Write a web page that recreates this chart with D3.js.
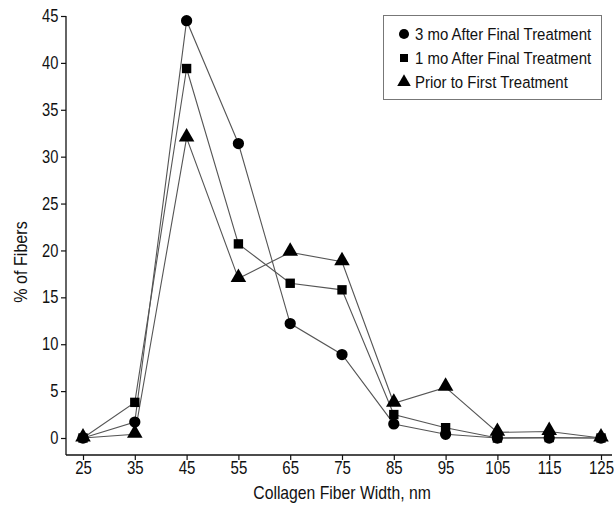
<!DOCTYPE html>
<html><head><meta charset="utf-8">
<script src="https://cdn.jsdelivr.net/npm/d3@7"></script>
<style>
body{margin:0;background:#fff;}
svg text{font-family:"Liberation Sans",Arial,sans-serif;fill:#111;}
</style></head>
<body><svg id="c" width="614" height="508"></svg>
<script>
const widths = [25,35,45,55,65,75,85,95,105,115,125];
const xTicks = [25,35,45,55,65,75,85,95,105,115,125];
const yTicks = [0,5,10,15,20,25,30,35,40,45];
const seriesNames = ["3 mo After Final Treatment","1 mo After Final Treatment","Prior to First Treatment"];
const threeMo = [0,1.7,44.5,31.4,12.2,8.9,1.5,0.4,0,0,0];
const oneMo   = [0,3.8,39.4,20.7,16.5,15.8,2.5,1.1,0,0.05,0];
const prior   = [0,0.4,32.0,17.0,19.8,18.8,3.7,5.4,0.6,0.7,0];
const symbols = [d3.symbolCircle, d3.symbolSquare, d3.symbolTriangle];
const symSizes = [100, 88, 105];

const svg = d3.select("#c");
const x = d3.scaleLinear().domain([25,125]).range([83,601]);
const y = d3.scaleLinear().domain([0,45]).range([438,16]);
const axX = 66, axY = 455;

svg.append("line").attr("x1",axX).attr("x2",axX).attr("y1",y(45)).attr("y2",axY).attr("stroke","#111").attr("stroke-width",1.3);
svg.append("line").attr("x1",axX).attr("x2",612).attr("y1",axY).attr("y2",axY).attr("stroke","#111").attr("stroke-width",1.3);

const ya = svg.append("g").attr("transform",`translate(${axX},0)`)
  .call(d3.axisLeft(y).tickValues(yTicks).tickSize(5).tickSizeOuter(0).tickPadding(3));
ya.select(".domain").remove();
const xa = svg.append("g").attr("transform",`translate(0,${axY})`)
  .call(d3.axisBottom(x).tickValues(xTicks).tickSize(5).tickSizeOuter(0).tickPadding(5));
xa.select(".domain").remove();
svg.selectAll(".tick line").attr("stroke","#111").attr("stroke-width",1.2);
svg.selectAll(".tick text").attr("font-size",17.5).attr("font-family",null);
ya.selectAll(".tick text").attr("x",-9).attr("transform","scale(0.84,1)");
xa.selectAll(".tick text").attr("y",7).attr("transform","scale(0.86,1)");

svg.append("g").attr("transform","translate(342,499) scale(0.9,1)")
  .append("text").attr("text-anchor","middle").attr("font-size",17.5).text("Collagen Fiber Width, nm");
svg.append("g").attr("transform","translate(27,262) rotate(-90) scale(0.92,1)")
  .append("text").attr("text-anchor","middle").attr("font-size",17.5).text("% of Fibers");

const all = [threeMo, oneMo, prior];
const line = d3.line().x((d,i)=>x(widths[i])).y(d=>y(d));
all.forEach((s,k)=>{
  svg.append("path").attr("d",line(s)).attr("fill","none").attr("stroke","#555").attr("stroke-width",1.1);
});
[2,1,0].forEach(k=>{
  svg.append("g").selectAll("path").data(all[k]).enter().append("path")
    .attr("d",d3.symbol().type(symbols[k]).size(symSizes[k]))
    .attr("transform",(d,i)=>`translate(${x(widths[i])},${y(d) - (k===2?1:0)})`)
    .attr("fill","#000");
});

const lg = svg.append("g");
lg.append("rect").attr("x",383.5).attr("y",15.5).attr("width",218).attr("height",84).attr("fill","#fff").attr("stroke","#777").attr("stroke-width",1);
seriesNames.forEach((n,k)=>{
  const yy = 34 + k*24;
  lg.append("path").attr("d",d3.symbol().type(symbols[k]).size(k===1?65:80)).attr("transform",`translate(404,${yy})`).attr("fill","#000");
  lg.append("g").attr("transform",`translate(415,${yy+6}) scale(0.88,1)`)
    .append("text").attr("font-size",17).text(n);
});
</script></body></html>
